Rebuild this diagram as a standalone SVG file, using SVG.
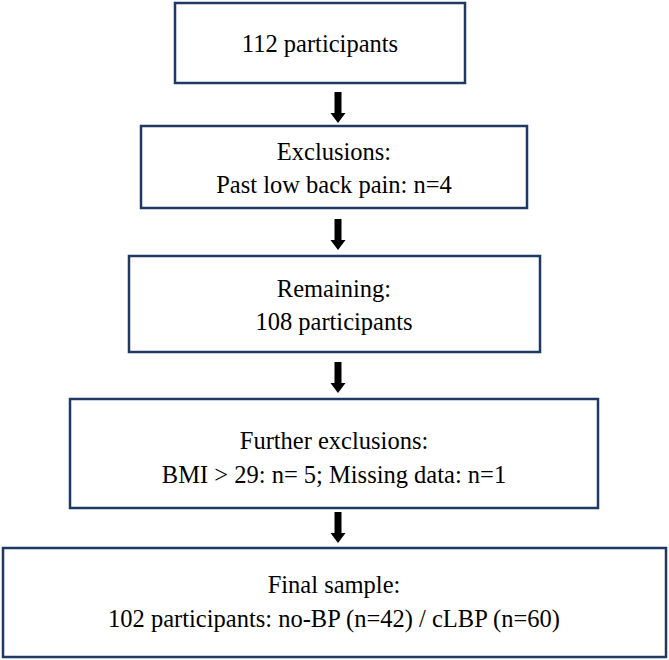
<svg xmlns="http://www.w3.org/2000/svg" width="669" height="660" viewBox="0 0 669 660">
<defs>
<style>
.box{fill:#ffffff;stroke:#1f3864;stroke-width:2.5}
.t{font-family:"Liberation Serif","Times New Roman",serif;font-size:24.5px;fill:#000;text-anchor:middle}
.arr{fill:#000}
</style>
<path id="arrow" class="arr" d="M-3.5,0 H3.5 V21 H7.5 L0,31 L-7.5,21 H-3.5 Z"/>
</defs>
<rect width="669" height="660" fill="#ffffff"/>
<g id="connectors">
<use href="#arrow" x="338" y="92"/>
<use href="#arrow" x="338" y="219"/>
<use href="#arrow" x="338" y="362"/>
<use href="#arrow" x="338" y="512"/>
</g>
<g id="n1">
<rect class="box" x="175" y="3" width="290" height="80"/>
<text class="t" x="320" y="52">112 participants</text>
</g>
<g id="n2">
<rect class="box" x="141" y="126" width="386" height="82"/>
<text class="t" x="334" y="160">Exclusions:</text>
<text class="t" x="334" y="193">Past low back pain: n=4</text>
</g>
<g id="n3">
<rect class="box" x="129" y="256" width="411" height="96"/>
<text class="t" x="334" y="297">Remaining:</text>
<text class="t" x="334" y="330">108 participants</text>
</g>
<g id="n4">
<rect class="box" x="70" y="399" width="528" height="109"/>
<text class="t" x="334" y="449">Further exclusions:</text>
<text class="t" x="334" y="483">BMI &gt; 29: n= 5; Missing data: n=1</text>
</g>
<g id="n5">
<rect class="box" x="3" y="548" width="663" height="109"/>
<text class="t" x="334" y="593">Final sample:</text>
<text class="t" x="334" y="627">102 participants: no-BP (n=42) / cLBP (n=60)</text>
</g>
</svg>
